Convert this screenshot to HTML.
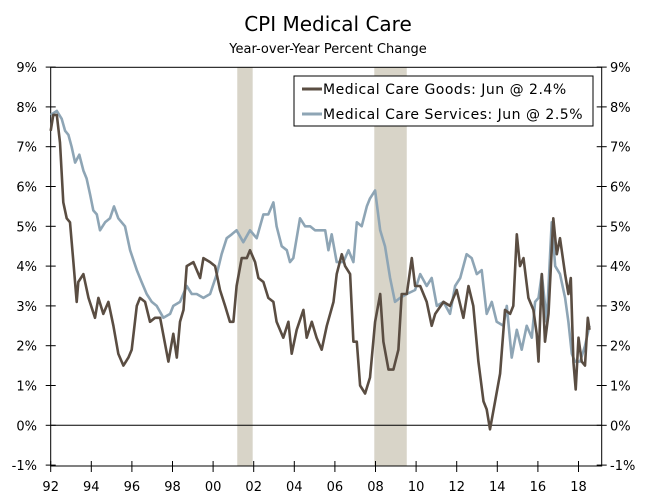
<!DOCTYPE html>
<html><head><meta charset="utf-8"><style>
body{margin:0;background:#fff;}
svg text{font-family:"DejaVu Sans","Liberation Sans",sans-serif;fill:#000;}
</style></head><body>
<svg id="chart" width="656" height="496" xmlns="http://www.w3.org/2000/svg">
<text x="328" y="31" text-anchor="middle" font-size="20">CPI Medical Care</text>
<text x="328" y="53" text-anchor="middle" font-size="13">Year-over-Year Percent Change</text>
<g id="rec"></g><g id="axes"></g><g id="lines"></g>
<g>
<rect x="294" y="76" width="299" height="50" fill="#fff" stroke="#000" stroke-width="1"/>
<line x1="302" y1="89" x2="322" y2="89" stroke="#5a4d42" stroke-width="3"/>
<text x="323" y="94" font-size="14" letter-spacing="0.5">Medical Care Goods: Jun @ 2.4%</text>
<line x1="302" y1="114" x2="322" y2="114" stroke="#8ea5b5" stroke-width="3"/>
<text x="323" y="119" font-size="14" letter-spacing="0.5">Medical Care Services: Jun @ 2.5%</text>
</g>
</svg>
<script>
const recessions=[[2001.19,2001.95],[2007.94,2009.54]];
const yTicks=[-1,0,1,2,3,4,5,6,7,8,9];
const xTickYears=[1992,1994,1996,1998,2000,2002,2004,2006,2008,2010,2012,2014,2016,2018];
const xTickLabels=["92","94","96","98","00","02","04","06","08","10","12","14","16","18"];
const goodsDates=[1992.0,1992.13,1992.30,1992.46,1992.62,1992.79,1992.95,1993.12,1993.28,1993.36,1993.61,1993.86,1994.18,1994.35,1994.59,1994.84,1995.09,1995.33,1995.58,1995.83,1995.99,1996.24,1996.40,1996.65,1996.89,1997.14,1997.39,1997.80,1998.04,1998.21,1998.37,1998.54,1998.70,1999.03,1999.36,1999.52,1999.85,2000.10,2000.34,2000.59,2000.83,2001.00,2001.16,2001.41,2001.66,2001.82,2002.07,2002.23,2002.48,2002.72,2002.97,2003.13,2003.46,2003.71,2003.87,2004.12,2004.45,2004.61,2004.86,2005.10,2005.35,2005.60,2005.93,2006.09,2006.34,2006.50,2006.75,2006.91,2007.08,2007.24,2007.49,2007.73,2007.98,2008.23,2008.39,2008.64,2008.88,2009.13,2009.29,2009.54,2009.79,2009.95,2010.20,2010.52,2010.77,2010.94,2011.35,2011.67,2012.00,2012.33,2012.58,2012.82,2013.07,2013.32,2013.48,2013.64,2013.89,2014.14,2014.38,2014.63,2014.79,2014.96,2015.12,2015.29,2015.53,2015.78,2015.94,2016.03,2016.19,2016.35,2016.52,2016.76,2016.93,2017.09,2017.34,2017.50,2017.62,2017.75,2017.86,2018.00,2018.16,2018.32,2018.46,2018.54];
const goodsValues=[7.4,7.8,7.8,7.1,5.6,5.2,5.1,4.1,3.1,3.6,3.8,3.2,2.7,3.2,2.8,3.1,2.5,1.8,1.5,1.7,1.9,3.0,3.2,3.1,2.6,2.7,2.7,1.6,2.3,1.7,2.6,2.9,4.0,4.1,3.7,4.2,4.1,4.0,3.4,3.0,2.6,2.6,3.5,4.2,4.2,4.4,4.1,3.7,3.6,3.2,3.1,2.6,2.2,2.6,1.8,2.4,2.9,2.2,2.6,2.2,1.9,2.5,3.1,3.8,4.3,4.0,3.8,2.1,2.1,1.0,0.8,1.2,2.6,3.3,2.1,1.4,1.4,1.9,3.3,3.3,4.2,3.5,3.5,3.1,2.5,2.8,3.1,3.0,3.4,2.7,3.5,3.0,1.6,0.6,0.4,-0.1,0.6,1.3,2.9,2.8,3.0,4.8,4.0,4.2,3.2,2.9,2.3,1.6,3.8,2.1,2.8,5.2,4.3,4.7,3.8,3.3,3.7,1.6,0.9,2.2,1.6,1.5,2.7,2.4];
const servicesDates=[1992.0,1992.30,1992.54,1992.71,1992.87,1993.03,1993.20,1993.41,1993.61,1993.77,1993.94,1994.10,1994.27,1994.43,1994.68,1994.92,1995.12,1995.33,1995.66,1995.91,1996.24,1996.48,1996.73,1996.98,1997.22,1997.55,1997.88,1998.04,1998.37,1998.70,1998.95,1999.19,1999.52,1999.85,2000.18,2000.42,2000.67,2000.92,2001.16,2001.49,2001.82,2002.15,2002.48,2002.72,2002.97,2003.13,2003.38,2003.63,2003.79,2003.95,2004.28,2004.53,2004.78,2005.02,2005.35,2005.52,2005.68,2005.84,2006.09,2006.42,2006.67,2006.91,2007.08,2007.32,2007.57,2007.73,2007.98,2008.23,2008.47,2008.72,2008.96,2009.21,2009.54,2009.95,2010.20,2010.52,2010.77,2011.02,2011.35,2011.67,2011.92,2012.17,2012.49,2012.74,2012.99,2013.23,2013.48,2013.73,2013.97,2014.30,2014.47,2014.71,2014.96,2015.20,2015.45,2015.70,2015.86,2016.03,2016.19,2016.44,2016.60,2016.68,2016.85,2017.09,2017.34,2017.50,2017.67,2017.83,2018.08,2018.32,2018.54];
const servicesValues=[7.8,7.9,7.7,7.4,7.3,7.0,6.6,6.8,6.4,6.2,5.8,5.4,5.3,4.9,5.1,5.2,5.5,5.2,5.0,4.4,3.9,3.6,3.3,3.1,3.0,2.7,2.8,3.0,3.1,3.5,3.3,3.3,3.2,3.3,3.8,4.3,4.7,4.8,4.9,4.6,4.9,4.7,5.3,5.3,5.6,5.0,4.5,4.4,4.1,4.2,5.2,5.0,5.0,4.9,4.9,4.9,4.4,4.8,4.1,4.1,4.4,4.1,5.1,5.0,5.5,5.7,5.9,4.9,4.5,3.7,3.1,3.2,3.3,3.4,3.8,3.5,3.7,3.0,3.1,2.8,3.5,3.7,4.3,4.2,3.8,3.9,2.8,3.1,2.6,2.5,3.0,1.7,2.4,1.9,2.5,2.2,3.1,3.2,3.8,2.6,4.3,5.1,4.0,3.8,3.2,2.6,1.8,1.6,1.6,2.0,2.5];

const L=50.7,R=601.7,T=67.3,B=466;
const X=y=>L+(y-1992)*20.3;
const Y=v=>425.3-v*39.8;
const NS="http://www.w3.org/2000/svg";
function mk(tag,parent,attrs){const e=document.createElementNS(NS,tag);for(const k in attrs)e.setAttribute(k,attrs[k]);parent.appendChild(e);return e;}
const rec=document.getElementById('rec'),axes=document.getElementById('axes'),lines=document.getElementById('lines');
recessions.forEach(r=>{
  const e=mk('rect',rec,{x:X(r[0]),y:T,width:X(r[1])-X(r[0]),height:B-T,fill:'#d8d4c8'});
  
  
});
const frame=mk('rect',axes,{x:L,y:T,width:R-L,height:B-T,fill:'none',stroke:'#000','stroke-width':1});


const zl=mk('line',axes,{x1:L,x2:R,y1:Y(0),y2:Y(0),stroke:'#000','stroke-width':1});


yTicks.forEach(v=>{
  mk('line',axes,{x1:L-5,x2:L+5,y1:Y(v),y2:Y(v),stroke:'#000'});
  mk('line',axes,{x1:R-5,x2:R+5,y1:Y(v),y2:Y(v),stroke:'#000'});
  const a=mk('text',axes,{x:37,y:Y(v)+5,'text-anchor':'end','font-size':13});a.textContent=v+'%';
  
  
  const b=mk('text',axes,{x:610,y:Y(v)+5,'text-anchor':'start','font-size':13});b.textContent=v+'%';
  
  
});
xTickYears.forEach((yr,i)=>{
  mk('line',axes,{x1:X(yr),x2:X(yr),y1:B-5,y2:B+6,stroke:'#000'});
  const t=mk('text',axes,{x:X(yr),y:B+25,'text-anchor':'middle','font-size':13});t.textContent=xTickLabels[i];
  
  
});
function series(d,v,col,name){
  const p=mk('polyline',lines,{points:d.map((x,i)=>X(x).toFixed(1)+','+Y(v[i]).toFixed(1)).join(' '),fill:'none',stroke:col,'stroke-width':2.6,'stroke-linejoin':'round'});
  
  
}
series(servicesDates,servicesValues,'#8ea5b5','services-line');
series(goodsDates,goodsValues,'#5a4d42','goods-line');
</script>
</body></html>
